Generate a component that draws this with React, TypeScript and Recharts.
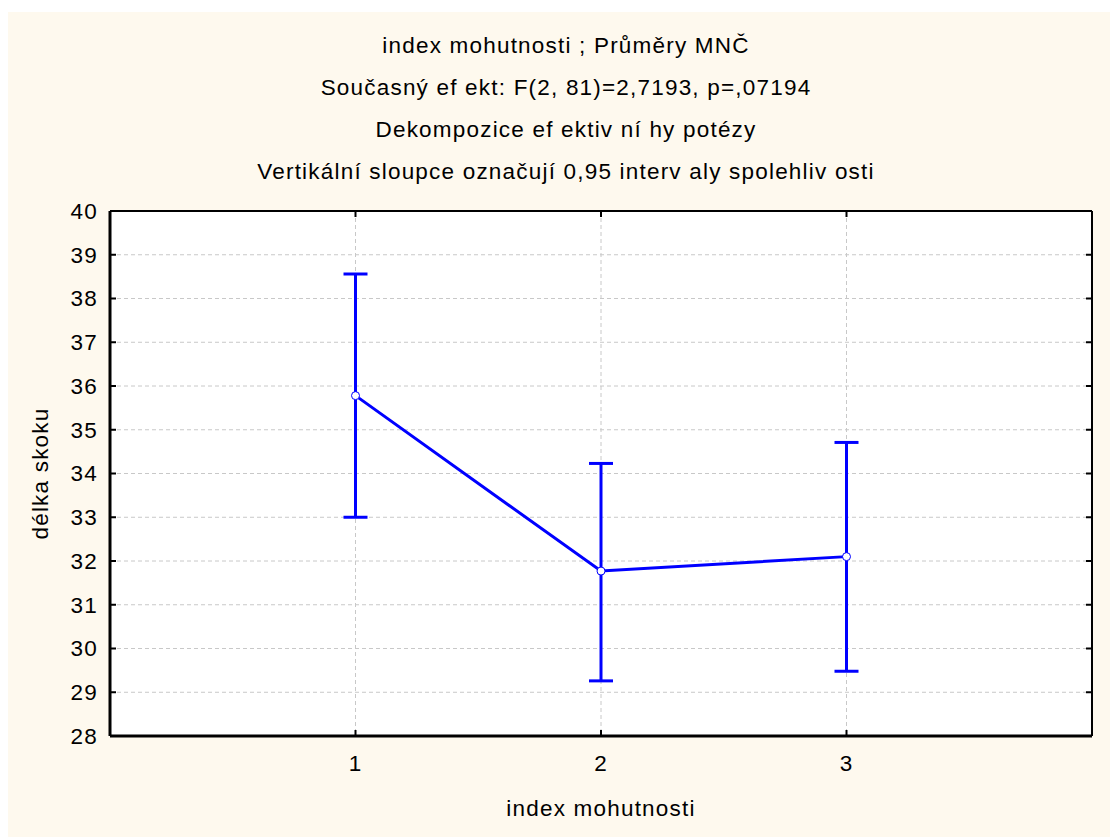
import {
  CartesianGrid,
  ComposedChart,
  ErrorBar,
  Line,
  XAxis,
  YAxis,
} from "recharts";

// group index on the x axis, category means and 0.95 confidence limits
const groups = [1, 2, 3];
const means = [35.78, 31.77, 32.1];
const lowerLimits = [33.0, 29.26, 29.48];
const upperLimits = [38.56, 34.23, 34.71];

const yTicks = [28, 29, 30, 31, 32, 33, 34, 35, 36, 37, 38, 39, 40];
const xTicks = [1, 2, 3];

const titleLines = [
  "index mohutnosti ; Průměry MNČ",
  "Současný ef ekt: F(2, 81)=2,7193, p=,07194",
  "Dekompozice ef ektiv ní hy potézy",
  "Vertikální sloupce označují 0,95 interv aly spolehliv osti",
];

const BLUE = "#0000ff";
const FONT = "'Liberation Sans', Arial, sans-serif";
const FONT_SIZE = 22.5;
const SPACING = 1.2;

// ErrorBar wants [minus, plus] offsets relative to the mean
const data = groups.map((g, i) => ({
  group: g,
  mean: means[i],
  ci: [means[i] - lowerLimits[i], upperLimits[i] - means[i]],
}));

const textStyle = {
  fill: "#000",
  fontSize: FONT_SIZE,
  fontFamily: FONT,
  letterSpacing: SPACING,
};

export default function App() {
  return (
    <div
      style={{
        position: "absolute",
        left: 8,
        top: 12,
        width: 1102,
        height: 825,
        background: "#fef9ee",
        fontFamily: FONT,
      }}
    >
      <div
        style={{
          position: "absolute",
          top: 13,
          left: 0,
          width: 1116,
          textAlign: "center",
          fontSize: FONT_SIZE,
          letterSpacing: SPACING,
          lineHeight: "42px",
          color: "#000",
        }}
      >
        {titleLines.map((t) => (
          <div key={t}>{t}</div>
        ))}
      </div>
      <ComposedChart
        width={1102}
        height={825}
        data={data}
        margin={{ top: 198, right: 17, bottom: 21, left: 22 }}
        style={{ position: "absolute", left: 0, top: 0 }}
      >
        <CartesianGrid stroke="#c8c8c8" strokeDasharray="4 3" fill="#fff" />
        <XAxis
          dataKey="group"
          type="number"
          domain={[0, 4]}
          ticks={xTicks}
          height={80}
          tickSize={-6}
          tickMargin={25}
          axisLine={{ stroke: "#000", strokeWidth: 3 }}
          tickLine={{ stroke: "#000", strokeWidth: 2 }}
          tick={textStyle}
          label={{
            value: "index mohutnosti",
            position: "insideBottom",
            offset: 0,
            style: textStyle,
          }}
        />
        <XAxis
          xAxisId="top"
          dataKey="group"
          orientation="top"
          type="number"
          domain={[0, 4]}
          ticks={xTicks}
          height={1}
          tickSize={-6}
          tickFormatter={() => ""}
          axisLine={{ stroke: "#000", strokeWidth: 2 }}
          tickLine={{ stroke: "#000", strokeWidth: 2 }}
        />
        <YAxis
          type="number"
          domain={[28, 40]}
          ticks={yTicks}
          width={80}
          tickSize={-6}
          tickMargin={18}
          axisLine={{ stroke: "#000", strokeWidth: 3 }}
          tickLine={{ stroke: "#000", strokeWidth: 2 }}
          tick={textStyle}
          label={{
            value: "délka skoku",
            angle: -90,
            position: "insideLeft",
            offset: 10,
            style: { ...textStyle, textAnchor: "middle" },
          }}
        />
        <YAxis
          yAxisId="right"
          orientation="right"
          type="number"
          domain={[28, 40]}
          ticks={yTicks}
          width={1}
          tickSize={-6}
          tickFormatter={() => ""}
          axisLine={{ stroke: "#000", strokeWidth: 2 }}
          tickLine={{ stroke: "#000", strokeWidth: 2 }}
        />
        {/* invisible copy of the series so the top/right frame axes get drawn */}
        <Line
          xAxisId="top"
          yAxisId="right"
          dataKey="mean"
          stroke="none"
          dot={false}
          activeDot={false}
          legendType="none"
          isAnimationActive={false}
        />
        <Line
          dataKey="mean"
          stroke={BLUE}
          strokeWidth={3}
          isAnimationActive={false}
          dot={{ r: 4, fill: "#fff", stroke: BLUE, strokeWidth: 1 }}
          activeDot={false}
        >
          <ErrorBar
            dataKey="ci"
            direction="y"
            width={12}
            stroke={BLUE}
            strokeWidth={3}
            isAnimationActive={false}
          />
        </Line>
      </ComposedChart>
    </div>
  );
}
